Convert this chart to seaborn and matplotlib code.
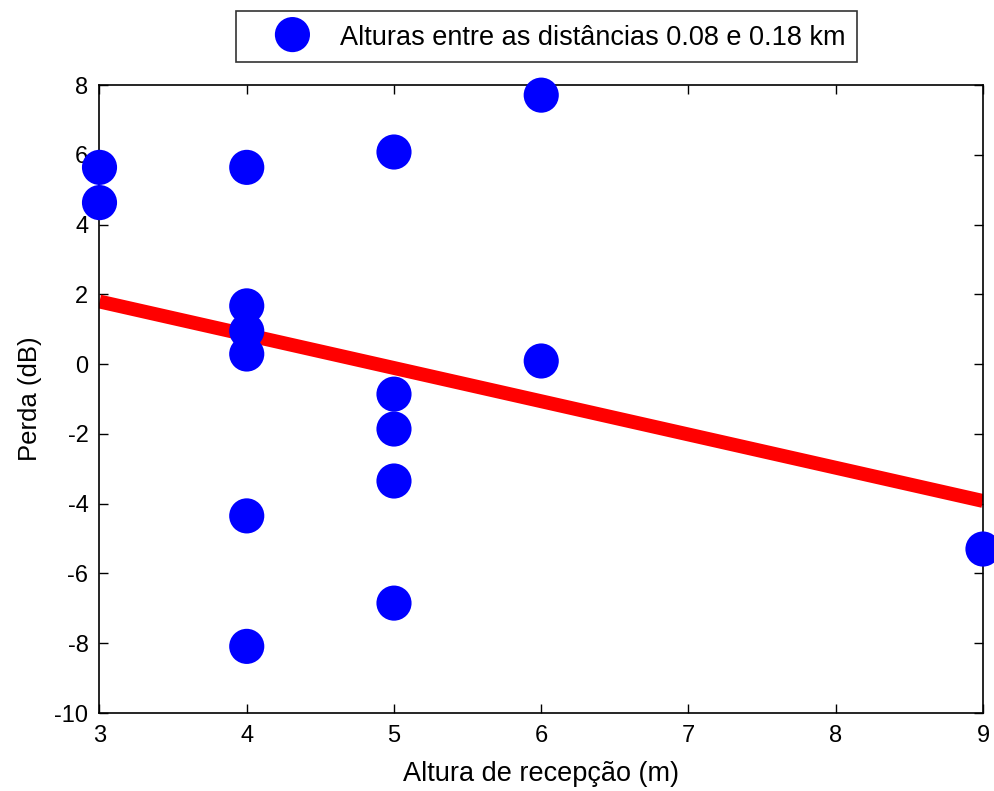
import numpy as np
import pandas as pd
import matplotlib
matplotlib.use("Agg")
import matplotlib.pyplot as plt
import seaborn as sns

# Reception height (m) and measured loss (dB)
altura = [3, 3, 4, 4, 4, 4, 4, 4, 5, 5, 5, 5, 5, 6, 6, 9]
perda = [5.64, 4.63, 5.64, 1.67, 0.95, 0.29, -4.35, -8.09,
         6.08, -0.86, -1.86, -3.35, -6.85, 7.71, 0.09, -5.3]

x_ticks = [3, 4, 5, 6, 7, 8, 9]
y_ticks = [-10, -8, -6, -4, -2, 0, 2, 4, 6, 8]

legend_label = "Alturas entre as distâncias 0.08 e 0.18 km"

df = pd.DataFrame({"altura": altura, "perda": perda})

sns.set_style("white")
plt.rcParams["font.family"] = ["Liberation Sans", "DejaVu Sans"]
plt.rcParams["text.color"] = "black"
plt.rcParams["axes.labelcolor"] = "black"
plt.rcParams["xtick.color"] = "black"
plt.rcParams["ytick.color"] = "black"

fig = plt.figure(figsize=(9.94, 7.91), dpi=100)
ax = fig.add_axes([0.1001, 0.0986, 0.8888, 0.7939])

sns.scatterplot(data=df, x="altura", y="perda", ax=ax, color="#0000ff",
                s=640, edgecolor="none", label=legend_label, zorder=3,
                clip_on=False)
sns.regplot(data=df, x="altura", y="perda", ax=ax, scatter=False, ci=None,
            color="#ff0000", line_kws={"linewidth": 10, "solid_capstyle": "butt",
                                       "zorder": 2})

ax.set_xlim(3, 9)
ax.set_ylim(-10, 8)
ax.set_xticks(x_ticks)
ax.set_yticks(y_ticks)
ax.set_xticklabels([str(t) for t in x_ticks], fontsize=17)
ax.set_yticklabels([str(t) for t in y_ticks], fontsize=17)
ax.tick_params(direction="in", length=6.5, width=1, top=True, right=True,
               bottom=True, left=True, colors="black")
ax.tick_params(axis="y", pad=8)
ax.tick_params(axis="x", pad=8.5)
ax.set_xlabel("Altura de recepção (m)", fontsize=19.5, labelpad=10)
ax.set_ylabel("Perda (dB)", fontsize=18.5, labelpad=9)

for sp in ax.spines.values():
    sp.set_visible(True)
    sp.set_color("black")
    sp.set_linewidth(1.2)

leg = ax.legend(loc="lower center", bbox_to_anchor=(0.506, 1.0366),
                frameon=True, fancybox=False, edgecolor="black",
                fontsize=19.5, markerscale=1.0, handlelength=3.3,
                handleheight=1.15, handletextpad=0.1,
                borderpad=0.42, borderaxespad=0)
leg.get_frame().set_linewidth(1.2)

fig.savefig("out.png", dpi=100, facecolor="white")
